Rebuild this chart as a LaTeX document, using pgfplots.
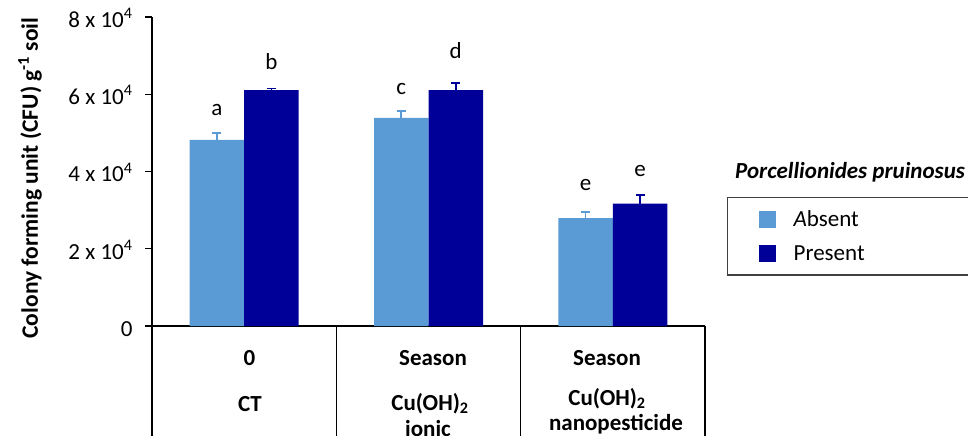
\documentclass[border=0pt]{standalone}
\usepackage{fontspec}
\setmainfont{Carlito}
\usepackage{pgfplots}
\pgfplotsset{compat=1.18}
\definecolor{absent}{HTML}{5B9BD5}
\definecolor{present}{HTML}{000099}
\newcommand{\f}{\fontsize{23bp}{27bp}\selectfont}
\begin{document}
\begin{tikzpicture}[font=\f]
\begin{axis}[
  at={(152bp,110bp)}, anchor=south west,
  scale only axis, width=553bp, height=309bp,
  xmin=-0.5, xmax=2.5, ymin=0, ymax=80000,
  axis lines*=left,
  axis line style={line width=1.3bp, black},
  xtick=\empty,
  ytick={0,20000,40000,60000,80000},
  yticklabels={0,{2 x 10\textsuperscript{4}},{4 x 10\textsuperscript{4}},{6 x 10\textsuperscript{4}},{8 x 10\textsuperscript{4}}},
  scaled y ticks=false,
  tick align=outside,
  major tick length=7bp,
  tick style={line width=1.3bp, black},
  yticklabel style={anchor=base east, yshift=-10.5bp, xshift=-9bp},
  clip=false,
  legend cell align=left,
  legend image code/.code={\fill[#1, draw=none] (0bp,-8.5bp) rectangle (17bp,8.5bp);},
  legend style={at={(axis description cs:1.0398,0.4175)}, anchor=north west,
    draw=black!75, line width=1.3bp, inner xsep=31bp, inner ysep=13bp,
    row sep=17bp, column sep=18bp, font=\f,
    nodes={inner sep=0bp, text width=220bp, align=left}},
]
\addplot[ybar, bar width=54.5bp, bar shift=0bp, fill=absent, draw=none, forget plot,
  error bars/.cd, y dir=plus, y explicit,
  error bar style={color=absent, line width=1.8bp},
  error mark options={rotate=90, color=absent, mark size=4.5bp, line width=1.8bp}]
  coordinates {(-0.14783,48200) +- (0,1800) (0.85217,53900) +- (0,1800) (1.85217,27900) +- (0,1550)};
\addplot[ybar, bar width=54.5bp, bar shift=0bp, fill=present, draw=none, forget plot,
  error bars/.cd, y dir=plus, y explicit,
  error bar style={color=present, line width=1.8bp},
  error mark options={rotate=90, color=present, mark size=4.5bp, line width=1.8bp}]
  coordinates {(0.14783,61060) +- (0,450) (1.14783,61060) +- (0,1900) (2.14783,31700) +- (0,2300)};
\addlegendimage{fill=absent}
\addlegendentry{\textit{A}bsent}
\addlegendimage{fill=present}
\addlegendentry{Present}
% significance letters
\node at (axis cs:-0.14783,55900) {a};
\node at (axis cs:0.14783,68400) {b};
\node at (axis cs:0.85217,61300) {c};
\node at (axis cs:1.14783,71200) {d};
\node at (axis cs:1.85217,36500) {e};
\node at (axis cs:2.14783,40200) {e};
% table lines below the axis
\draw[line width=1.3bp] (rel axis cs:0,0) -- ++(0bp,-120bp);
\draw[line width=1.3bp] (axis cs:0.5,0) -- ++(0bp,-120bp);
\draw[line width=1.3bp] (axis cs:1.5,0) -- ++(0bp,-120bp);
\draw[line width=1.3bp] (axis cs:2.5,0) -- ++(0bp,-120bp);
\end{axis}
% category table text
\begin{scope}[every node/.style={font=\f\bfseries, anchor=base, inner sep=0pt}]
\node at (249.5bp,70bp) {0};
\node at (250bp,25bp) {CT};
\node at (433bp,70bp) {Season};
\node at (430bp,26bp) {Cu(OH)\textsubscript{2}};
\node at (428bp,0bp) {ionic};
\node at (607bp,70bp) {Season};
\node at (607bp,31bp) {Cu(OH)\textsubscript{2}};
\node at (616bp,6bp) {nanopesticide};
\end{scope}
\node[rotate=90, font=\fontsize{23.5bp}{27bp}\selectfont\bfseries] at (30bp,258bp) {Colony forming unit (CFU) g\textsuperscript{-1} soil};
\node[anchor=base west, inner sep=0pt, font=\f\bfseries\itshape] at (735bp,257bp) {Porcellionides pruinosus};
\pgfresetboundingbox
\path[use as bounding box] (0,0) rectangle (968bp,436bp);
\end{tikzpicture}
\end{document}
